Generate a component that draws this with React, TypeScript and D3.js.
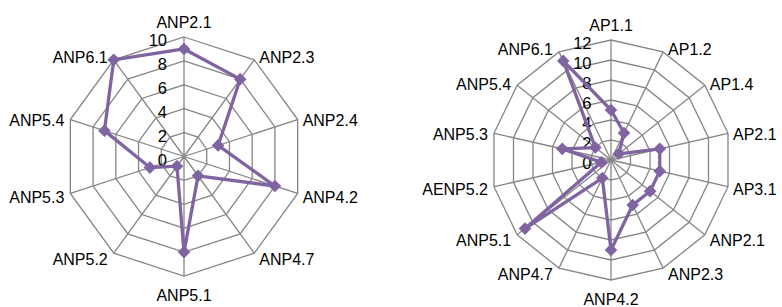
import * as d3 from "d3"

// left radar
const leftAxes = ["ANP2.1", "ANP2.3", "ANP2.4", "ANP4.2", "ANP4.7", "ANP5.1", "ANP5.2", "ANP5.3", "ANP5.4", "ANP6.1"]
const leftValues = [9, 8, 3, 8, 2, 8, 1, 3, 7, 10]
const leftTicks = [0, 2, 4, 6, 8, 10]

// right radar
const rightAxes = ["AP1.1", "AP1.2", "AP1.4", "AP2.1", "AP3.1", "ANP2.1", "ANP2.3", "ANP4.2", "ANP4.7", "ANP5.1", "AENP5.2", "ANP5.3", "ANP5.4", "ANP6.1"]
const rightValues = [5, 3, 1, 5, 5, 5, 5, 9, 2, 11, 1, 5, 2, 11]
const rightTicks = [0, 2, 4, 6, 8, 10, 12]

const GRID = "#868686"
const SERIES = "#8064A2"
const FONT = "'Liberation Sans', Arial, sans-serif"

type RadarProps = {
    axes: string[]
    values: number[]
    ticks: number[]
    cx: number
    cy: number
    radius: number
    tickGap: number
}

function Radar({ axes, values, ticks, cx, cy, radius, tickGap }: RadarProps) {
    const n = axes.length
    const step = (2 * Math.PI) / n
    const max = d3.max(ticks) as number
    const r = d3.scaleLinear().domain([0, max]).range([0, radius])

    const ring = d3
        .lineRadial<string>()
        .angle((_, i) => i * step)
        .curve(d3.curveLinearClosed)

    const series = d3
        .lineRadial<number>()
        .angle((_, i) => i * step)
        .radius((d) => r(d))
        .curve(d3.curveLinearClosed)

    const diamond = d3.symbol(d3.symbolSquare, 80)()

    const pt = (i: number, v: number) => {
        const a = i * step
        return [r(v) * Math.sin(a), -r(v) * Math.cos(a)]
    }

    return (
        <g transform={`translate(${cx},${cy})`}>
            {/* rings */}
            {ticks.slice(1).map((t) => (
                <path key={t} d={ring.radius(r(t))(axes) ?? ""} fill="none" stroke={GRID} strokeWidth={1.3} />
            ))}
            {/* spokes */}
            {axes.map((a, i) => {
                const [x, y] = pt(i, max)
                return <line key={a + i} x1={0} y1={0} x2={x} y2={y} stroke={GRID} strokeWidth={1.3} />
            })}
            {/* tick labels */}
            {ticks.map((t) => (
                <text key={t} x={-tickGap} y={-r(t) + 9} textAnchor="end" fontSize={16.5} fontFamily={FONT} fill="#000">
                    {t}
                </text>
            ))}
            {/* series */}
            <path d={series(values) ?? ""} fill="none" stroke={SERIES} strokeWidth={3.3} strokeLinejoin="round" />
            {values.map((v, i) => {
                const [x, y] = pt(i, v)
                return <path key={i} d={diamond ?? ""} transform={`translate(${x},${y}) rotate(45)`} fill={SERIES} />
            })}
            {/* axis labels */}
            {axes.map((a, i) => {
                const ang = i * step
                const s = Math.sin(ang)
                const c = Math.cos(ang)
                const [x, y] = pt(i, max)
                let anchor = "middle"
                let lx = x
                let ly = y
                if (c > 0.95) {
                    ly = y - 15
                } else if (c < -0.95) {
                    ly = y + 19.5
                } else {
                    anchor = s > 0 ? "start" : "end"
                    lx = x + (s > 0 ? 5 : -6)
                    ly = y + 5 * -c + 2
                }
                return (
                    <text key={a + i} x={lx} y={ly} dy="0.35em" textAnchor={anchor} fontSize={16} fontFamily={FONT} fill="#000">
                        {a}
                    </text>
                )
            })}
        </g>
    )
}

export default function App() {
    return (
        <svg width={782} height={307} viewBox="0 0 782 307" style={{ position: "absolute", left: 0, top: 0, background: "#fff" }}>
            <Radar axes={leftAxes} values={leftValues} ticks={leftTicks} cx={184} cy={156.5} radius={119.5} tickGap={17} />
            <Radar axes={rightAxes} values={rightValues} ticks={rightTicks} cx={611} cy={160} radius={120} tickGap={19.5} />
        </svg>
    )
}
